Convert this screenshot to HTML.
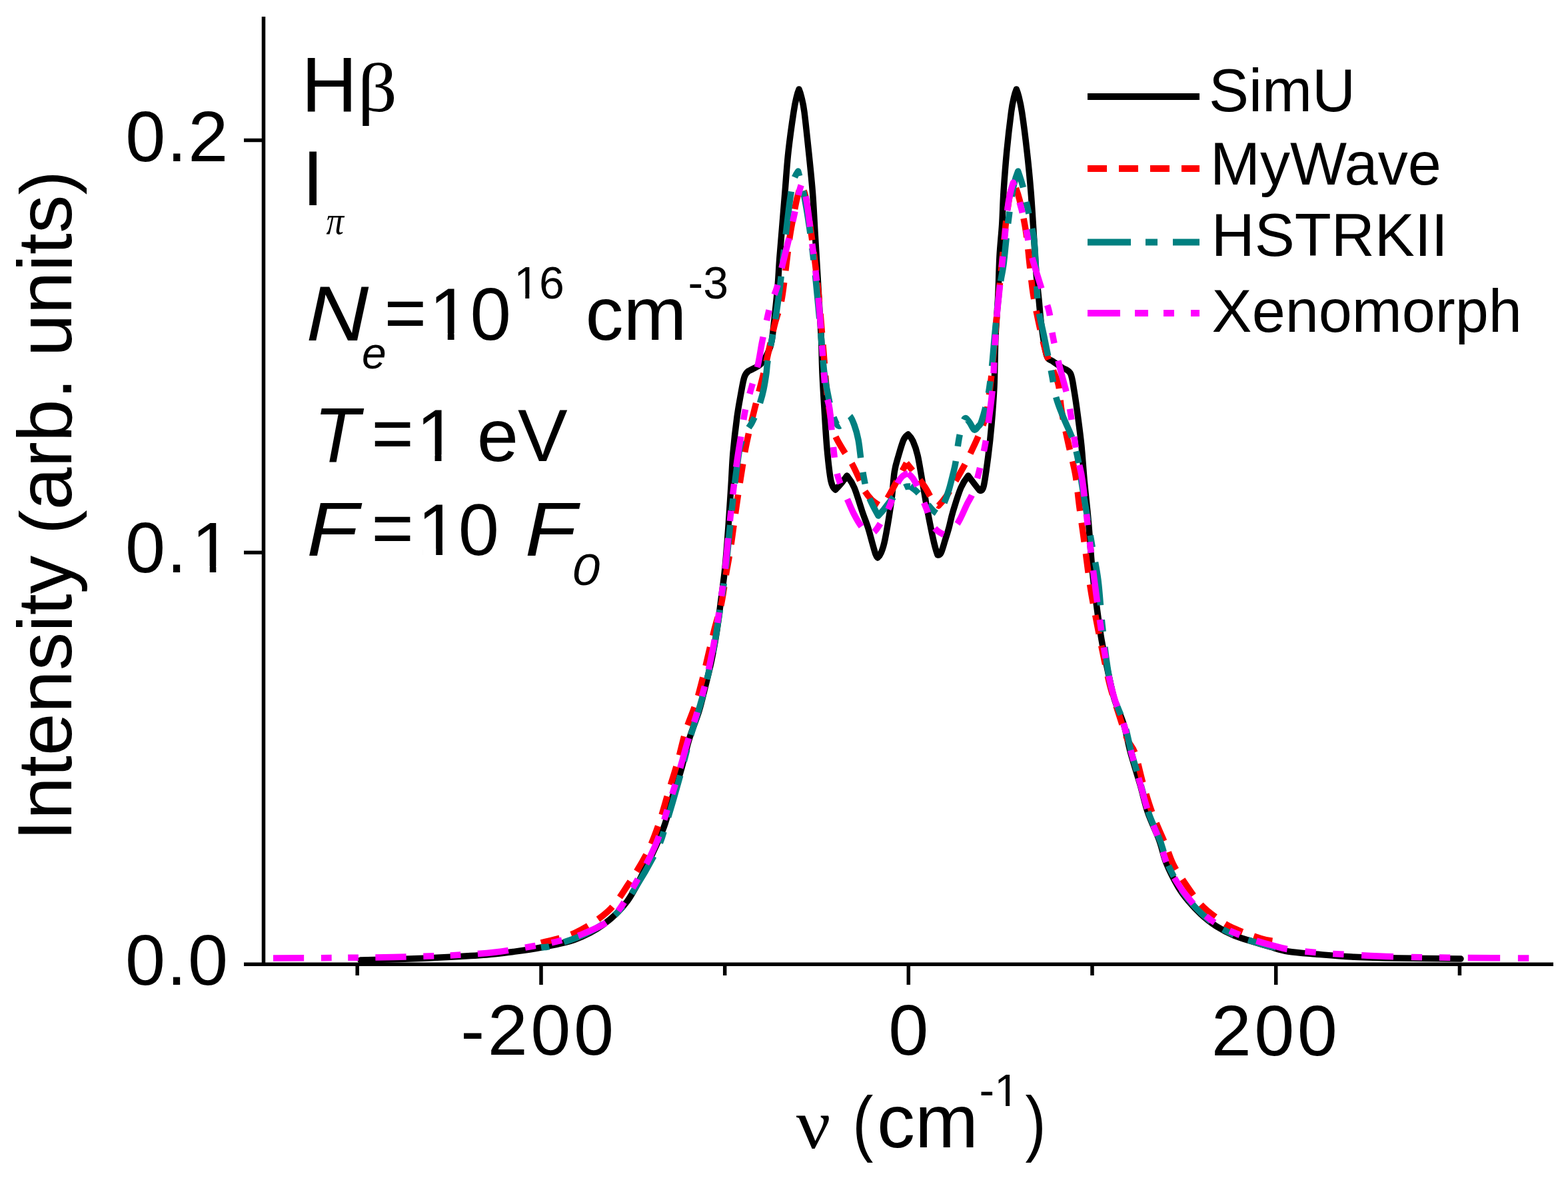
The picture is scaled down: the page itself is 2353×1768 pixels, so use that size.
<!DOCTYPE html>
<html><head><meta charset="utf-8"><title>H&#946; line profile: SimU, MyWave, HSTRKII, Xenomorph</title>
<style>html,body{margin:0;padding:0;background:#fff;overflow:hidden}svg{display:block}</style>
</head><body>
<svg width="2353" height="1768" viewBox="0 0 2353 1768">
<rect width="2353" height="1768" fill="#fff"/>
<g fill="none" stroke-linejoin="round" stroke-width="9.5">
<path d="M541.0,1441.0 C550.8,1440.8 578.3,1440.2 600.0,1439.5 C621.7,1438.8 649.3,1437.6 671.0,1436.5 C692.7,1435.4 713.5,1434.3 730.0,1433.0 C746.5,1431.7 756.3,1430.3 770.0,1428.5 C783.7,1426.7 796.5,1425.1 812.0,1422.0 C827.5,1418.9 847.5,1415.7 863.0,1410.0 C878.5,1404.3 892.0,1397.5 905.0,1388.0 C918.0,1378.5 930.2,1367.7 941.0,1353.0 C951.8,1338.3 960.8,1318.5 970.0,1300.0 C979.2,1281.5 989.7,1258.7 996.0,1242.0 C1002.3,1225.3 1003.7,1214.3 1008.0,1200.0 C1012.3,1185.7 1017.7,1171.0 1022.0,1156.0 C1026.3,1141.0 1029.5,1124.8 1034.0,1110.0 C1038.5,1095.2 1045.0,1080.0 1049.0,1067.0 C1053.0,1054.0 1054.8,1044.8 1058.0,1032.0 C1061.2,1019.2 1065.0,1004.5 1068.0,990.0 C1071.0,975.5 1073.7,960.0 1076.0,945.0 C1078.3,930.0 1080.0,915.5 1082.0,900.0 C1084.0,884.5 1086.2,870.3 1088.0,852.0 C1089.8,833.7 1091.5,810.3 1093.0,790.0 C1094.5,769.7 1095.8,748.3 1097.0,730.0 C1098.2,711.7 1098.5,697.3 1100.0,680.0 C1101.5,662.7 1104.0,641.0 1106.0,626.0 C1108.0,611.0 1110.2,600.0 1112.0,590.0 C1113.8,580.0 1115.2,571.5 1117.0,566.0 C1118.8,560.5 1123.0,557.0 1123.0,557.0 C1123.0,557.0 1127.8,554.8 1131.0,553.0 C1134.2,551.2 1138.5,549.8 1142.0,546.0 C1145.5,542.2 1149.3,535.7 1152.0,530.0 C1154.7,524.3 1156.2,522.0 1158.0,512.0 C1159.8,502.0 1161.5,483.7 1163.0,470.0 C1164.5,456.3 1165.8,444.2 1167.0,430.0 C1168.2,415.8 1168.8,400.5 1170.0,385.0 C1171.2,369.5 1172.7,353.2 1174.0,337.0 C1175.3,320.8 1176.5,306.2 1178.0,288.0 C1179.5,269.8 1180.8,248.0 1183.0,228.0 C1185.2,208.0 1188.9,181.8 1191.0,168.0 C1193.1,154.2 1194.2,150.7 1195.5,145.0 C1196.8,139.3 1199.0,134.0 1199.0,134.0 C1199.0,134.0 1201.2,139.3 1202.5,145.0 C1203.8,150.7 1205.2,154.2 1207.0,168.0 C1208.8,181.8 1211.5,208.0 1213.6,228.0 C1215.7,248.0 1217.8,268.0 1219.4,288.0 C1221.0,308.0 1221.8,328.0 1223.0,348.0 C1224.2,368.0 1225.4,388.0 1226.6,408.0 C1227.8,428.0 1229.0,451.0 1230.0,468.0 C1231.0,485.0 1231.8,494.7 1232.5,510.0 C1233.2,525.3 1233.2,542.0 1234.0,560.0 C1234.8,578.0 1236.1,598.8 1237.3,618.0 C1238.5,637.2 1239.6,657.7 1241.2,675.0 C1242.8,692.3 1244.9,712.0 1247.0,722.0 C1249.1,732.0 1253.7,735.0 1253.7,735.0 C1253.7,735.0 1259.1,729.5 1262.0,726.0 C1264.9,722.5 1271.0,714.0 1271.0,714.0 C1271.0,714.0 1278.2,723.0 1282.0,732.0 C1285.8,741.0 1290.6,758.0 1294.0,768.0 C1297.4,778.0 1300.1,784.2 1302.6,792.0 C1305.1,799.8 1307.1,808.3 1309.0,815.0 C1310.9,821.7 1312.7,828.3 1314.0,832.0 C1315.3,835.7 1317.0,837.0 1317.0,837.0 C1317.0,837.0 1320.2,834.5 1322.0,830.0 C1323.8,825.5 1325.4,822.8 1328.0,810.0 C1330.6,797.2 1335.1,770.0 1337.5,753.0 C1339.9,736.0 1340.5,719.5 1342.3,708.0 C1344.1,696.5 1346.0,692.0 1348.3,684.0 C1350.6,676.0 1353.6,665.3 1356.0,660.0 C1358.4,654.7 1362.7,652.0 1362.7,652.0 C1362.7,652.0 1367.6,656.7 1370.0,662.0 C1372.4,667.3 1374.9,674.0 1377.2,684.0 C1379.5,694.0 1381.9,710.2 1384.0,722.0 C1386.1,733.8 1387.5,742.8 1389.7,755.0 C1391.9,767.2 1395.2,784.2 1397.4,795.0 C1399.6,805.8 1401.4,813.7 1403.0,820.0 C1404.6,826.3 1407.0,833.0 1407.0,833.0 C1407.0,833.0 1410.1,833.8 1412.0,830.0 C1413.9,826.2 1416.5,816.3 1418.5,810.0 C1420.5,803.7 1422.1,799.0 1424.0,792.0 C1425.9,785.0 1427.0,778.0 1430.0,768.0 C1433.0,758.0 1438.2,741.0 1442.0,732.0 C1445.8,723.0 1453.0,714.0 1453.0,714.0 C1453.0,714.0 1460.0,723.3 1462.8,727.0 C1465.6,730.7 1470.0,736.0 1470.0,736.0 C1470.0,736.0 1473.8,738.7 1476.0,730.0 C1478.2,721.3 1481.0,699.5 1483.0,684.0 C1485.0,668.5 1486.5,654.3 1488.0,637.0 C1489.5,619.7 1491.0,602.0 1492.0,580.0 C1493.0,558.0 1493.0,527.5 1494.0,505.0 C1495.0,482.5 1496.7,465.1 1497.7,445.0 C1498.7,424.9 1499.0,402.6 1500.0,384.5 C1501.0,366.4 1502.7,352.6 1503.7,336.5 C1504.7,320.4 1504.8,306.1 1506.0,288.0 C1507.2,269.9 1508.8,248.0 1510.7,228.0 C1512.6,208.0 1515.7,181.8 1517.5,168.0 C1519.3,154.2 1520.5,150.7 1521.8,145.0 C1523.1,139.3 1525.3,134.0 1525.3,134.0 C1525.3,134.0 1527.4,139.3 1528.8,145.0 C1530.2,150.7 1531.4,154.2 1533.5,168.0 C1535.6,181.8 1539.0,208.0 1541.2,228.0 C1543.5,248.0 1545.2,266.0 1547.0,288.0 C1548.8,310.0 1550.5,339.7 1551.8,360.0 C1553.1,380.3 1553.8,395.0 1555.0,410.0 C1556.2,425.0 1557.7,436.7 1559.0,450.0 C1560.3,463.3 1561.1,476.2 1563.0,490.0 C1564.9,503.8 1567.8,524.3 1570.5,533.0 C1573.2,541.7 1575.3,538.7 1579.5,542.0 C1583.7,545.3 1595.8,553.0 1595.8,553.0 C1595.8,553.0 1603.9,555.3 1606.6,561.0 C1609.3,566.7 1610.2,576.5 1612.0,587.0 C1613.8,597.5 1615.6,610.3 1617.4,624.0 C1619.2,637.7 1621.3,652.8 1622.9,669.0 C1624.5,685.2 1625.5,702.3 1627.2,721.0 C1628.9,739.7 1631.2,758.5 1633.2,781.0 C1635.2,803.5 1637.1,834.2 1639.2,856.0 C1641.3,877.8 1643.7,894.7 1646.0,912.0 C1648.3,929.3 1650.2,944.0 1653.0,960.0 C1655.8,976.0 1659.4,993.2 1662.6,1008.0 C1665.8,1022.8 1668.2,1035.7 1672.2,1049.0 C1676.2,1062.3 1682.6,1074.7 1686.6,1088.0 C1690.6,1101.3 1692.3,1113.8 1696.3,1128.6 C1700.3,1143.4 1706.3,1161.6 1710.7,1176.8 C1715.1,1192.0 1717.9,1206.0 1722.7,1220.0 C1727.5,1234.0 1735.0,1248.5 1739.6,1261.0 C1744.1,1273.5 1745.3,1283.3 1750.0,1295.0 C1754.7,1306.7 1762.3,1321.3 1768.0,1331.0 C1773.7,1340.7 1778.3,1346.2 1784.0,1353.0 C1789.7,1359.8 1795.2,1365.8 1802.0,1372.0 C1808.8,1378.2 1816.7,1384.7 1825.0,1390.0 C1833.3,1395.3 1843.0,1400.2 1852.0,1404.0 C1861.0,1407.8 1870.0,1410.2 1879.0,1413.0 C1888.0,1415.8 1897.0,1418.5 1906.0,1421.0 C1915.0,1423.5 1921.7,1426.2 1933.0,1428.0 C1944.3,1429.8 1958.2,1430.7 1974.0,1432.0 C1989.8,1433.3 2007.0,1435.0 2028.0,1436.0 C2049.0,1437.0 2072.7,1437.5 2100.0,1438.0 C2127.3,1438.5 2176.7,1438.8 2192.0,1439.0" stroke="#000" stroke-linecap="round"/>
<path d="M812.0,1415.0 C820.5,1412.5 846.3,1407.8 863.0,1400.0 C879.7,1392.2 898.7,1380.2 912.0,1368.0 C925.3,1355.8 933.2,1341.7 943.0,1327.0 C952.8,1312.3 963.4,1295.0 971.0,1280.0 C978.6,1265.0 983.2,1252.2 988.5,1237.0 C993.8,1221.8 998.2,1204.7 1003.0,1189.0 C1007.8,1173.3 1012.7,1158.3 1017.0,1143.0 C1021.3,1127.7 1024.5,1111.5 1029.0,1097.0 C1033.5,1082.5 1039.8,1068.8 1044.0,1056.0 C1048.2,1043.2 1050.8,1032.3 1054.0,1020.0 C1057.2,1007.7 1060.0,994.5 1063.0,982.0 C1066.0,969.5 1068.8,957.7 1072.0,945.0 C1075.2,932.3 1079.7,919.3 1082.5,906.0 C1085.3,892.7 1086.8,878.5 1089.0,865.0 C1091.2,851.5 1093.7,839.8 1096.0,825.0 C1098.3,810.2 1100.5,791.8 1102.8,776.0 C1105.0,760.2 1107.2,744.8 1109.5,730.0 C1111.8,715.2 1114.4,698.3 1116.3,687.0 C1118.2,675.7 1119.2,670.5 1121.0,662.0 C1122.8,653.5 1124.3,646.8 1126.9,636.0 C1129.5,625.2 1133.4,609.7 1136.6,597.0 C1139.8,584.3 1142.9,572.8 1146.0,560.0 C1149.1,547.2 1152.2,532.5 1155.0,520.0 C1157.8,507.5 1160.1,496.3 1163.0,485.0 C1165.9,473.7 1169.9,464.7 1172.5,452.0 C1175.1,439.3 1176.5,424.3 1178.5,409.0 C1180.5,393.7 1182.6,373.5 1184.5,360.0 C1186.4,346.5 1188.1,338.3 1190.0,328.0 C1191.9,317.7 1194.0,306.3 1196.0,298.0 C1198.0,289.7 1202.0,278.0 1202.0,278.0 C1202.0,278.0 1206.2,285.0 1208.0,292.0 C1209.8,299.0 1211.3,309.5 1213.0,320.0 C1214.7,330.5 1216.0,340.0 1218.0,355.0 C1220.0,370.0 1222.8,390.8 1225.0,410.0 C1227.2,429.2 1229.2,450.0 1231.0,470.0 C1232.8,490.0 1234.3,510.0 1236.0,530.0 C1237.7,550.0 1239.2,573.3 1241.0,590.0 C1242.8,606.7 1245.0,619.5 1247.0,630.0 C1249.0,640.5 1250.0,645.5 1253.0,653.0 C1256.0,660.5 1260.8,667.8 1265.0,675.0 C1269.2,682.2 1274.3,688.5 1278.5,696.0 C1282.7,703.5 1287.0,713.5 1290.0,720.0 C1293.0,726.5 1293.5,730.0 1296.5,735.0 C1299.5,740.0 1304.2,746.2 1308.0,750.0 C1311.8,753.8 1319.0,758.0 1319.0,758.0 C1319.0,758.0 1324.5,756.3 1327.0,754.0 C1329.5,751.7 1330.7,749.7 1334.0,744.0 C1337.3,738.3 1342.6,728.2 1347.0,720.0 C1351.4,711.8 1360.3,695.0 1360.3,695.0" stroke="#f00" stroke-dasharray="28.76 17.85"/>
<path d="M1360.3,695.0 C1360.3,695.0 1369.4,706.0 1374.0,712.0 C1378.6,718.0 1383.8,724.7 1388.0,731.0 C1392.2,737.3 1395.6,745.3 1399.0,750.0 C1402.4,754.7 1408.4,759.0 1408.4,759.0 C1408.4,759.0 1415.6,751.5 1420.0,745.0 C1424.4,738.5 1430.3,728.0 1435.0,720.0 C1439.7,712.0 1443.8,705.0 1448.0,697.0 C1452.2,689.0 1456.5,679.8 1460.2,672.0 C1463.9,664.2 1466.8,658.0 1470.0,650.0 C1473.2,642.0 1476.7,635.7 1479.4,624.0 C1482.1,612.3 1483.9,597.3 1486.0,580.0 C1488.1,562.7 1490.2,540.0 1492.0,520.0 C1493.8,500.0 1495.2,480.0 1497.0,460.0 C1498.8,440.0 1500.8,421.7 1503.0,400.0 C1505.2,378.3 1507.8,348.3 1510.0,330.0 C1512.2,311.7 1514.0,299.0 1516.0,290.0 C1518.0,281.0 1522.0,276.0 1522.0,276.0 C1522.0,276.0 1527.0,287.9 1530.0,300.0 C1533.0,312.1 1537.2,332.2 1539.7,348.5 C1542.2,364.8 1543.5,382.2 1545.3,398.0 C1547.1,413.8 1548.2,427.7 1550.7,443.0 C1553.2,458.3 1556.8,475.5 1560.0,490.0 C1563.2,504.5 1566.7,519.2 1570.0,530.0 C1573.3,540.8 1576.9,546.9 1580.0,555.0 C1583.1,563.1 1586.4,568.3 1588.6,578.5 C1590.8,588.7 1590.6,601.6 1593.0,616.0 C1595.4,630.4 1599.5,649.0 1603.0,665.0 C1606.5,681.0 1610.9,695.9 1613.7,711.7 C1616.5,727.5 1617.3,741.8 1619.7,759.8 C1622.1,777.8 1625.3,800.0 1628.0,820.0 C1630.7,840.0 1633.2,861.7 1636.0,880.0 C1638.8,898.3 1641.8,913.3 1645.0,930.0 C1648.2,946.7 1651.5,963.3 1655.0,980.0 C1658.5,996.7 1661.8,1014.2 1666.0,1030.0 C1670.2,1045.8 1675.7,1061.7 1680.0,1075.0 C1684.3,1088.3 1688.1,1100.7 1692.0,1110.0 C1695.9,1119.3 1699.6,1119.9 1703.5,1131.0 C1707.4,1142.1 1711.1,1161.5 1715.5,1176.8 C1719.9,1192.0 1724.4,1207.3 1730.0,1222.5 C1735.6,1237.7 1744.2,1256.0 1749.2,1268.2 C1754.2,1280.5 1755.7,1287.3 1760.0,1296.0 C1764.3,1304.7 1768.0,1310.5 1774.8,1320.5 C1781.5,1330.5 1792.1,1346.4 1800.5,1355.8 C1808.9,1365.2 1816.8,1370.9 1825.0,1377.0 C1833.2,1383.1 1838.1,1387.1 1849.4,1392.4 C1860.7,1397.7 1881.9,1405.3 1892.8,1408.7 C1903.7,1412.1 1911.0,1412.3 1914.6,1413.0" stroke="#f00" stroke-dasharray="28.80 17.87" stroke-dashoffset="14.40"/>
<path d="M812.0,1422.0 C815.0,1421.5 818.7,1422.5 830.0,1419.0 C841.3,1415.5 864.3,1408.8 880.0,1401.0 C895.7,1393.2 911.5,1383.8 924.0,1372.0 C936.5,1360.2 944.5,1346.5 955.0,1330.0 C965.5,1313.5 979.5,1288.8 987.0,1273.0 C994.5,1257.2 995.8,1248.0 1000.0,1235.0 C1004.2,1222.0 1008.0,1208.8 1012.0,1195.0 C1016.0,1181.2 1020.0,1166.8 1024.0,1152.0 C1028.0,1137.2 1031.8,1120.7 1036.0,1106.0 C1040.2,1091.3 1045.2,1077.0 1049.0,1064.0 C1052.8,1051.0 1055.8,1040.7 1059.0,1028.0 C1062.2,1015.3 1065.3,1001.0 1068.0,988.0 C1070.7,975.0 1072.7,963.8 1075.0,950.0 C1077.3,936.2 1079.7,920.8 1082.0,905.0 C1084.3,889.2 1086.8,873.3 1089.0,855.0 C1091.2,836.7 1093.0,814.2 1095.0,795.0 C1097.0,775.8 1099.2,755.8 1101.0,740.0 C1102.8,724.2 1104.3,711.8 1106.0,700.0 C1107.7,688.2 1108.7,677.7 1111.0,669.0 C1113.3,660.3 1117.2,653.7 1120.0,648.0 C1122.8,642.3 1125.7,639.3 1128.0,635.0 C1130.3,630.7 1131.8,627.3 1134.0,622.0 C1136.2,616.7 1139.0,609.3 1141.0,603.0 C1143.0,596.7 1144.5,591.2 1146.0,584.0 C1147.5,576.8 1149.0,567.0 1150.0,560.0 C1151.0,553.0 1150.5,551.0 1152.0,542.0 C1153.5,533.0 1156.8,518.0 1159.0,506.0 C1161.2,494.0 1163.2,482.0 1165.0,470.0 C1166.8,458.0 1168.5,446.0 1170.0,434.0 C1171.5,422.0 1172.3,412.8 1174.0,398.0 C1175.7,383.2 1178.0,362.0 1180.0,345.0 C1182.0,328.0 1184.2,308.5 1186.0,296.0 C1187.8,283.5 1189.0,276.5 1191.0,270.0 C1193.0,263.5 1197.7,257.0 1197.7,257.0 C1197.7,257.0 1203.2,276.0 1206.0,290.0 C1208.8,304.0 1211.9,322.7 1214.6,341.0 C1217.3,359.3 1219.8,380.2 1222.0,400.0 C1224.2,419.8 1226.2,440.8 1228.0,460.0 C1229.8,479.2 1231.5,498.3 1233.0,515.0 C1234.5,531.7 1235.3,546.7 1237.0,560.0 C1238.7,573.3 1241.0,585.0 1243.0,595.0 C1245.0,605.0 1246.8,613.0 1249.0,620.0 C1251.2,627.0 1253.8,634.0 1256.0,637.0 C1258.2,640.0 1260.0,639.7 1262.0,638.0 C1264.0,636.3 1265.8,629.3 1268.0,627.0 C1270.2,624.7 1272.7,622.2 1275.0,624.0 C1277.3,625.8 1279.8,632.0 1282.0,638.0 C1284.2,644.0 1286.3,651.3 1288.0,660.0 C1289.7,668.7 1290.7,680.8 1292.0,690.0 C1293.3,699.2 1294.5,707.0 1296.0,715.0 C1297.5,723.0 1299.0,731.3 1301.0,738.0 C1303.0,744.7 1305.2,749.0 1308.0,755.0 C1310.8,761.0 1318.0,774.0 1318.0,774.0 C1318.0,774.0 1323.0,768.7 1326.0,765.0 C1329.0,761.3 1332.3,756.5 1336.0,752.0 C1339.7,747.5 1344.3,741.5 1348.0,738.0 C1351.7,734.5 1355.0,732.3 1358.0,731.0 C1361.0,729.7 1366.0,730.0 1366.0,730.0" stroke="#008080" stroke-dasharray="65 22 18 23" stroke-dashoffset="92.5"/>
<path d="M1366.0,730.0 C1366.0,730.0 1372.3,734.3 1376.0,738.0 C1379.7,741.7 1384.0,747.3 1388.0,752.0 C1392.0,756.7 1396.7,762.7 1400.0,766.0 C1403.3,769.3 1408.0,772.0 1408.0,772.0 C1408.0,772.0 1413.3,763.2 1416.0,757.0 C1418.7,750.8 1421.7,742.5 1424.0,735.0 C1426.3,727.5 1428.3,718.8 1430.0,712.0 C1431.7,705.2 1432.7,701.8 1434.0,694.0 C1435.3,686.2 1436.7,673.2 1438.0,665.0 C1439.3,656.8 1440.3,651.2 1442.0,645.0 C1443.7,638.8 1445.8,629.8 1448.0,628.0 C1450.2,626.2 1452.7,631.2 1455.0,634.0 C1457.3,636.8 1459.8,644.0 1462.0,645.0 C1464.2,646.0 1466.2,642.2 1468.0,640.0 C1469.8,637.8 1470.7,639.0 1473.0,632.0 C1475.3,625.0 1479.5,610.8 1482.0,598.0 C1484.5,585.2 1486.2,571.3 1488.0,555.0 C1489.8,538.7 1491.3,517.5 1493.0,500.0 C1494.7,482.5 1496.5,463.3 1498.0,450.0 C1499.5,436.7 1500.7,428.8 1502.0,420.0 C1503.3,411.2 1504.5,408.7 1506.0,397.0 C1507.5,385.3 1509.3,364.5 1511.0,350.0 C1512.7,335.5 1514.2,322.5 1516.0,310.0 C1517.8,297.5 1520.0,283.8 1522.0,275.0 C1524.0,266.2 1527.7,257.0 1527.7,257.0 C1527.7,257.0 1532.6,270.8 1535.0,280.0 C1537.4,289.2 1540.0,302.8 1542.0,312.0 C1544.0,321.2 1545.3,326.7 1547.0,335.0 C1548.7,343.3 1550.7,349.5 1552.0,362.0 C1553.3,374.5 1554.0,393.5 1555.0,410.0 C1556.0,426.5 1556.0,445.0 1558.0,461.0 C1560.0,477.0 1563.7,489.5 1567.0,506.0 C1570.3,522.5 1575.0,544.8 1578.0,560.0 C1581.0,575.2 1582.0,585.8 1585.0,597.0 C1588.0,608.2 1591.8,616.5 1596.0,627.0 C1600.2,637.5 1606.3,649.3 1610.0,660.0 C1613.7,670.7 1615.7,679.3 1618.0,691.0 C1620.3,702.7 1622.0,717.5 1624.0,730.0 C1626.0,742.5 1627.5,751.0 1630.0,766.0 C1632.5,781.0 1636.0,802.5 1639.0,820.0 C1642.0,837.5 1645.5,851.5 1648.0,871.0 C1650.5,890.5 1651.5,914.2 1654.0,937.0 C1656.5,959.8 1659.8,989.2 1663.0,1008.0 C1666.2,1026.8 1668.8,1036.5 1673.0,1050.0 C1677.2,1063.5 1683.8,1075.7 1688.0,1089.0 C1692.2,1102.3 1694.0,1115.2 1698.0,1130.0 C1702.0,1144.8 1707.7,1162.8 1712.0,1178.0 C1716.3,1193.2 1719.2,1207.0 1724.0,1221.0 C1728.8,1235.0 1736.3,1249.5 1741.0,1262.0 C1745.7,1274.5 1747.2,1284.5 1752.0,1296.0 C1756.8,1307.5 1764.3,1321.5 1770.0,1331.0 C1775.7,1340.5 1780.3,1346.2 1786.0,1353.0 C1791.7,1359.8 1797.2,1365.8 1804.0,1372.0 C1810.8,1378.2 1818.7,1384.7 1827.0,1390.0 C1835.3,1395.3 1845.2,1400.2 1854.0,1404.0 C1862.8,1407.8 1871.2,1410.2 1880.0,1413.0 C1888.8,1415.8 1901.2,1419.5 1907.0,1421.0 C1912.8,1422.5 1913.3,1421.8 1914.6,1422.0" stroke="#008080" stroke-dasharray="65 22 18 23" stroke-dashoffset="48.5"/>
<path d="M410.0,1438.0 C425.0,1437.9 470.0,1437.8 500.0,1437.5 C530.0,1437.2 559.3,1437.2 590.0,1436.5 C620.7,1435.8 658.3,1434.8 684.0,1433.5 C709.7,1432.2 724.7,1431.2 744.0,1429.0 C763.3,1426.8 784.0,1422.8 800.0,1420.0 C816.0,1417.2 827.3,1415.2 840.0,1412.0 C852.7,1408.8 862.7,1407.0 876.0,1401.0 C889.3,1395.0 906.3,1389.8 920.0,1376.0 C933.7,1362.2 947.2,1336.5 958.0,1318.0 C968.8,1299.5 977.5,1283.0 985.0,1265.0 C992.5,1247.0 997.5,1227.2 1003.0,1210.0 C1008.5,1192.8 1013.2,1178.2 1018.0,1162.0 C1022.8,1145.8 1027.3,1128.3 1032.0,1113.0 C1036.7,1097.7 1041.7,1084.2 1046.0,1070.0 C1050.3,1055.8 1054.5,1041.7 1058.0,1028.0 C1061.5,1014.3 1064.3,1001.0 1067.0,988.0 C1069.7,975.0 1071.7,963.8 1074.0,950.0 C1076.3,936.2 1078.7,920.8 1081.0,905.0 C1083.3,889.2 1085.8,873.3 1088.0,855.0 C1090.2,836.7 1092.0,814.2 1094.0,795.0 C1096.0,775.8 1098.0,757.2 1100.0,740.0 C1102.0,722.8 1103.9,706.8 1106.0,692.0 C1108.1,677.2 1110.5,663.2 1112.5,651.0 C1114.5,638.8 1115.9,628.0 1117.7,619.0 C1119.5,610.0 1121.1,605.2 1123.3,597.0 C1125.5,588.8 1128.6,578.5 1131.0,570.0 C1133.4,561.5 1135.7,555.2 1137.7,546.0 C1139.8,536.8 1141.5,524.3 1143.3,515.0 C1145.1,505.7 1146.5,499.3 1148.6,490.0 C1150.7,480.7 1152.9,468.8 1155.8,459.0 C1158.7,449.2 1162.8,441.8 1166.0,431.0 C1169.2,420.2 1172.3,404.8 1175.0,394.0 C1177.7,383.2 1179.8,375.0 1182.0,366.0 C1184.2,357.0 1185.8,349.7 1188.0,340.0 C1190.2,330.3 1193.0,317.2 1195.0,308.0 C1197.0,298.8 1198.5,290.7 1200.0,285.0 C1201.5,279.3 1203.7,274.0 1203.7,274.0 C1203.7,274.0 1206.6,283.7 1208.0,290.0 C1209.4,296.3 1210.3,300.3 1212.0,312.0 C1213.7,323.7 1216.0,344.0 1218.0,360.0 C1220.0,376.0 1222.2,391.8 1224.0,408.0 C1225.8,424.2 1227.6,440.8 1229.0,457.0 C1230.4,473.2 1231.4,488.7 1232.6,505.0 C1233.8,521.3 1234.9,541.0 1236.0,555.0 C1237.1,569.0 1237.8,579.2 1239.3,589.0 C1240.8,598.8 1243.4,602.8 1245.0,614.0 C1246.6,625.2 1247.4,641.0 1249.0,656.0 C1250.6,671.0 1252.5,691.8 1254.7,704.0 C1256.9,716.2 1259.5,721.7 1262.4,729.5 C1265.3,737.3 1268.8,743.6 1272.0,750.6 C1275.2,757.6 1278.1,765.1 1281.6,771.8 C1285.1,778.5 1289.3,785.9 1293.2,791.0 C1297.1,796.1 1304.7,802.6 1304.7,802.6 C1304.7,802.6 1310.3,800.4 1314.0,796.0 C1317.7,791.6 1322.9,782.6 1326.6,776.0 C1330.3,769.4 1333.0,764.6 1336.2,756.4 C1339.4,748.2 1342.9,733.9 1345.9,727.0 C1348.9,720.1 1351.2,717.8 1354.0,715.0 C1356.8,712.2 1362.6,710.5 1362.6,710.5" stroke="#f0f" stroke-dasharray="46.25 25.58 15.74 24.60 15.74 25.58"/>
<path d="M1362.6,710.5 C1362.6,710.5 1367.4,714.2 1370.0,718.0 C1372.6,721.8 1374.8,725.9 1378.1,733.3 C1381.4,740.7 1385.8,752.6 1389.7,762.2 C1393.6,771.8 1396.7,784.3 1401.2,791.0 C1405.7,797.7 1416.6,802.6 1416.6,802.6 C1416.6,802.6 1430.1,794.9 1435.9,787.2 C1441.7,779.5 1447.1,764.7 1451.3,756.4 C1455.5,748.1 1457.7,746.2 1460.9,737.2 C1464.1,728.2 1467.6,714.1 1470.5,702.5 C1473.4,690.9 1476.0,680.0 1478.2,667.8 C1480.5,655.6 1482.1,644.0 1484.0,629.3 C1485.9,614.5 1488.4,595.8 1489.8,579.3 C1491.2,562.8 1491.6,546.4 1492.5,530.0 C1493.4,513.6 1493.8,499.0 1495.3,480.8 C1496.8,462.6 1499.3,440.7 1501.3,420.6 C1503.3,400.6 1505.5,378.5 1507.3,360.5 C1509.1,342.5 1510.6,324.1 1512.1,312.4 C1513.5,300.6 1514.6,296.4 1516.0,290.0 C1517.4,283.6 1520.5,274.0 1520.5,274.0 C1520.5,274.0 1523.0,281.6 1525.0,288.0 C1527.0,294.4 1530.0,302.9 1532.5,312.4 C1535.0,321.9 1537.6,333.7 1540.0,345.0 C1542.4,356.3 1543.1,365.2 1547.0,380.0 C1550.9,394.8 1558.8,419.6 1563.3,434.0 C1567.8,448.4 1571.7,456.9 1574.1,466.6 C1576.5,476.3 1576.2,483.0 1577.7,492.0 C1579.2,501.0 1581.1,510.8 1583.2,520.7 C1585.3,530.6 1588.0,541.8 1590.4,551.4 C1592.8,561.0 1595.5,570.4 1597.6,578.5 C1599.7,586.6 1601.2,591.0 1603.0,600.0 C1604.8,609.0 1606.6,621.1 1608.4,632.6 C1610.2,644.1 1612.0,658.3 1613.8,668.7 C1615.6,679.1 1617.3,686.3 1619.0,695.0 C1620.7,703.7 1621.8,703.9 1624.2,720.7 C1626.6,737.5 1630.2,771.0 1633.2,796.0 C1636.2,821.0 1639.3,847.5 1642.3,871.0 C1645.3,894.5 1648.0,914.7 1651.3,937.0 C1654.6,959.3 1658.5,986.7 1662.0,1005.0 C1665.5,1023.3 1668.0,1033.5 1672.0,1047.0 C1676.0,1060.5 1681.8,1072.7 1686.0,1086.0 C1690.2,1099.3 1692.8,1112.0 1697.0,1127.0 C1701.2,1142.0 1706.7,1160.8 1711.0,1176.0 C1715.3,1191.2 1718.2,1203.7 1723.0,1218.0 C1727.8,1232.3 1735.2,1248.7 1740.0,1262.0 C1744.8,1275.3 1747.0,1286.7 1752.0,1298.0 C1757.0,1309.3 1764.2,1321.0 1770.0,1330.0 C1775.8,1339.0 1781.2,1345.2 1787.0,1352.0 C1792.8,1358.8 1798.2,1365.0 1805.0,1371.0 C1811.8,1377.0 1819.7,1383.0 1828.0,1388.0 C1836.3,1393.0 1846.0,1397.2 1855.0,1401.0 C1864.0,1404.8 1872.8,1408.0 1882.0,1411.0 C1891.2,1414.0 1901.2,1416.7 1910.0,1419.0 C1918.8,1421.3 1923.3,1423.2 1935.0,1425.0 C1946.7,1426.8 1964.2,1428.7 1980.0,1430.0 C1995.8,1431.3 2010.0,1432.0 2030.0,1433.0 C2050.0,1434.0 2071.7,1435.2 2100.0,1436.0 C2128.3,1436.8 2165.8,1437.2 2200.0,1437.5 C2234.2,1437.8 2287.5,1437.9 2305.0,1438.0" stroke="#f0f" stroke-dasharray="48.14 26.63 16.39 25.61 16.39 26.63" stroke-dashoffset="24.17"/>
</g>
<g stroke="#000" stroke-width="5.5" fill="none">
<line x1="395.5" y1="25" x2="395.5" y2="1450"/>
<line x1="366" y1="1447.3" x2="2331" y2="1447.3"/>
<line x1="366" y1="210.5" x2="396" y2="210.5"/>
<line x1="366" y1="829.3" x2="396" y2="829.3"/>
<line x1="812" y1="1447" x2="812" y2="1478"/>
<line x1="1363.3" y1="1447" x2="1363.3" y2="1478"/>
<line x1="1914.7" y1="1447" x2="1914.7" y2="1478"/>
<line x1="536.2" y1="1447" x2="536.2" y2="1464"/>
<line x1="1087.7" y1="1447" x2="1087.7" y2="1464"/>
<line x1="1639" y1="1447" x2="1639" y2="1464"/>
<line x1="2190.4" y1="1447" x2="2190.4" y2="1464"/>
</g>
<g stroke-width="10" fill="none">
<line x1="1632" y1="145" x2="1800" y2="145" stroke="#000"/>
<line x1="1632" y1="253" x2="1800" y2="253" stroke="#f00" stroke-dasharray="29 18"/>
<line x1="1632" y1="363.4" x2="1800" y2="363.4" stroke="#008080" stroke-dasharray="65 22 18 23"/>
<line x1="1632" y1="470" x2="1800" y2="470" stroke="#f0f" stroke-dasharray="49 22 20 23 16 25"/>
</g>
<g transform="translate(188.2,241.8)" fill="#000"><text x="0" y="0" font-family="'Liberation Sans', Arial, sans-serif" font-size="108" letter-spacing="2">0.2</text></g>
<g transform="translate(188.0,859.0)" fill="#000"><text x="0" y="0" font-family="'Liberation Sans', Arial, sans-serif" font-size="108" letter-spacing="2">0.<tspan dx="5.5">1</tspan></text></g>
<g transform="translate(188.0,1478.4)" fill="#000"><text x="0" y="0" font-family="'Liberation Sans', Arial, sans-serif" font-size="108" letter-spacing="2">0.0</text></g>
<g transform="translate(691.3,1583.4)" fill="#000"><text x="0" y="0" font-family="'Liberation Sans', Arial, sans-serif" font-size="108" letter-spacing="4.5">-200</text></g>
<g transform="translate(1333.3,1582.9)" fill="#000"><text x="0" y="0" font-family="'Liberation Sans', Arial, sans-serif" font-size="108">0</text></g>
<g transform="translate(1817.7,1584.2)" fill="#000"><text x="0" y="0" font-family="'Liberation Sans', Arial, sans-serif" font-size="108" letter-spacing="4.5">200</text></g>
<g transform="translate(106.5,1262.0)" fill="#000"><text transform="rotate(-90)" x="0" y="0" font-family="'Liberation Sans', Arial, sans-serif" font-size="115">Intensity <tspan font-size="109">(</tspan>arb. units<tspan font-size="109">)</tspan></text></g>
<g transform="translate(1194.8,1723.4)" fill="#000"><text x="0" y="0" transform="scale(1.08,1)" font-family="'Liberation Serif', 'Times New Roman', serif" font-size="106">ν</text></g>
<g transform="translate(1279.3,1721.8)" fill="#000"><text x="0" y="0" transform="scale(0.85,1)" font-family="'Liberation Sans', Arial, sans-serif" font-size="110">(</text></g>
<g transform="translate(1315.9,1722.4)" fill="#000"><text x="0" y="0" font-family="'Liberation Sans', Arial, sans-serif" font-size="114">cm</text></g>
<g transform="translate(1469.4,1660.3)" fill="#000"><text x="0" y="0" font-family="'Liberation Sans', Arial, sans-serif" font-size="68">-1</text></g>
<g transform="translate(1538.5,1721.8)" fill="#000"><text x="0" y="0" transform="scale(0.85,1)" font-family="'Liberation Sans', Arial, sans-serif" font-size="110">)</text></g>
<g transform="translate(1813.9,166.8)" fill="#000"><text x="0" y="0" font-family="'Liberation Sans', Arial, sans-serif" font-size="90">SimU</text></g>
<g transform="translate(1816.0,276.5)" fill="#000"><text x="0" y="0" font-family="'Liberation Sans', Arial, sans-serif" font-size="90">MyWave</text></g>
<g transform="translate(1817.7,384.4)" fill="#000"><text x="0" y="0" font-family="'Liberation Sans', Arial, sans-serif" font-size="90">HSTRKII</text></g>
<g transform="translate(1818.6,498.3)" fill="#000"><text x="0" y="0" font-family="'Liberation Sans', Arial, sans-serif" font-size="90">Xenomorph</text></g>
<g transform="translate(452.3,166.8)" fill="#000"><text x="0" y="0" font-family="'Liberation Sans', Arial, sans-serif" font-size="116">H</text></g>
<g transform="translate(536.8,166.5)" fill="#000"><text x="0" y="0" transform="scale(1.12,1)" font-family="'Liberation Serif', 'Times New Roman', serif" font-size="104">β</text></g>
<g transform="translate(453.5,307.9)" fill="#000"><text x="0" y="0" font-family="'Liberation Sans', Arial, sans-serif" font-size="116">I</text></g>
<g transform="translate(489.4,351.4)" fill="#000"><text x="0" y="0" transform="scale(0.88,1)" font-family="'Liberation Serif', 'Times New Roman', serif" font-style="italic" font-size="60">π</text></g>
<g transform="translate(459.6,510.5)" fill="#000"><text x="0" y="0" transform="scale(1.11,1)" font-family="'Liberation Sans', Arial, sans-serif" font-style="italic" font-size="117">N</text></g>
<g transform="translate(543.0,553.4)" fill="#000"><text x="0" y="0" font-family="'Liberation Sans', Arial, sans-serif" font-style="italic" font-size="66">e</text></g>
<g transform="translate(576.8,507.8)" fill="#000"><text x="0" y="0" transform="scale(0.95,1)" font-family="'Liberation Sans', Arial, sans-serif" font-size="114">=</text></g>
<g transform="translate(644.0,509.5)" fill="#000"><text x="0" y="0" font-family="'Liberation Sans', Arial, sans-serif" font-size="110.5">10</text></g>
<g transform="translate(771.2,448.0)" fill="#000"><text x="0" y="0" font-family="'Liberation Sans', Arial, sans-serif" font-size="68">16</text></g>
<g transform="translate(878.6,509.5)" fill="#000"><text x="0" y="0" font-family="'Liberation Sans', Arial, sans-serif" font-size="114">cm</text></g>
<g transform="translate(1032.5,448.0)" fill="#000"><text x="0" y="0" font-family="'Liberation Sans', Arial, sans-serif" font-size="68">-3</text></g>
<g transform="translate(470.9,694.0)" fill="#000"><text x="0" y="0" transform="scale(0.96,1)" font-family="'Liberation Sans', Arial, sans-serif" font-style="italic" font-size="117">T</text></g>
<g transform="translate(557.5,689.2)" fill="#000"><text x="0" y="0" transform="scale(0.95,1)" font-family="'Liberation Sans', Arial, sans-serif" font-size="114">=</text></g>
<g transform="translate(624.4,692.0)" fill="#000"><text x="0" y="0" font-family="'Liberation Sans', Arial, sans-serif" font-size="112" letter-spacing="-1">1 eV</text></g>
<g transform="translate(460.3,834.1)" fill="#000"><text x="0" y="0" transform="scale(1.10,1)" font-family="'Liberation Sans', Arial, sans-serif" font-style="italic" font-size="115">F</text></g>
<g transform="translate(557.5,831.0)" fill="#000"><text x="0" y="0" transform="scale(0.95,1)" font-family="'Liberation Sans', Arial, sans-serif" font-size="114">=</text></g>
<g transform="translate(626.6,833.1)" fill="#000"><text x="0" y="0" font-family="'Liberation Sans', Arial, sans-serif" font-size="110">10</text></g>
<g transform="translate(787.8,834.1)" fill="#000"><text x="0" y="0" transform="scale(1.10,1)" font-family="'Liberation Sans', Arial, sans-serif" font-style="italic" font-size="115">F</text></g>
<g transform="translate(858.5,878.4)" fill="#000"><text x="0" y="0" transform="scale(1.12,1)" font-family="'Liberation Sans', Arial, sans-serif" font-style="italic" font-size="67">0</text></g>
<g fill="#fff"><rect x="294.95" y="849.7" width="19.78" height="10.6"/><rect x="324.27" y="849.7" width="18.9" height="10.6"/><rect x="1496.69" y="1654.0" width="12.45" height="7.6"/><rect x="1515.15" y="1654.0" width="11.9" height="7.6"/><rect x="651.55" y="500.0" width="20.23" height="10.8"/><rect x="681.55" y="500.0" width="19.4" height="10.8"/><rect x="775.85" y="441.7" width="12.45" height="7.6"/><rect x="794.31" y="441.7" width="11.9" height="7.6"/><rect x="632.06" y="682.4" width="20.51" height="10.9"/><rect x="662.46" y="682.4" width="19.6" height="10.9"/><rect x="634.12" y="823.7" width="20.14" height="10.7"/><rect x="663.98" y="823.7" width="19.3" height="10.7"/></g>
</svg>
</body></html>
